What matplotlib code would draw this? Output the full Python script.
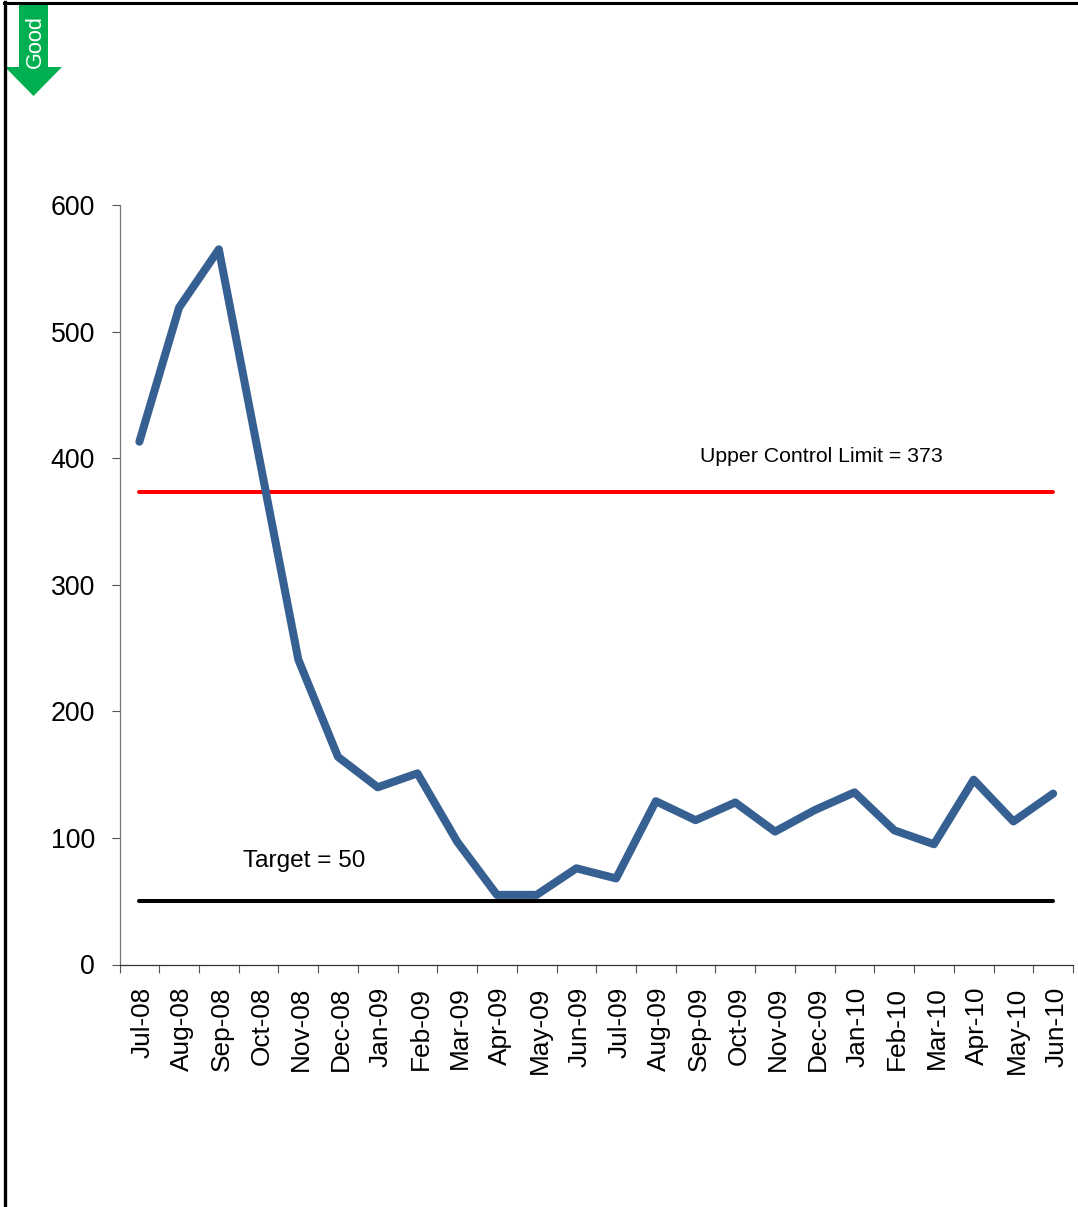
import matplotlib
matplotlib.use("Agg")
import matplotlib.pyplot as plt
from matplotlib.lines import Line2D
from matplotlib.patches import Polygon
from matplotlib.transforms import ScaledTranslation

plt.rcParams["font.family"] = ["Liberation Sans", "DejaVu Sans"]

months = ["Jul-08", "Aug-08", "Sep-08", "Oct-08", "Nov-08", "Dec-08", "Jan-09", "Feb-09",
          "Mar-09", "Apr-09", "May-09", "Jun-09", "Jul-09", "Aug-09", "Sep-09", "Oct-09",
          "Nov-09", "Dec-09", "Jan-10", "Feb-10", "Mar-10", "Apr-10", "May-10", "Jun-10"]
values = [413, 519, 565, 403, 241, 164, 140, 151, 97, 55, 55, 76,
          68, 129, 114, 128, 105, 122, 136, 106, 95, 146, 113, 135]
upper_limit = 373
target = 50

W, H = 1078, 1207
fig = plt.figure(figsize=(W / 100, H / 100), dpi=100, facecolor="white")


def fx(px):
    return px / W


def fy(py):
    return 1 - py / H


ax = fig.add_axes([fx(119.5), fy(964.5), (1073 - 119.5) / W, (964.5 - 205) / H])
x = list(range(len(months)))

# process line and the two reference lines
ax.plot(x, values, color="#376092", lw=5.8, solid_joinstyle="round", solid_capstyle="round", zorder=3)
ax.plot(x, [upper_limit] * len(x), color="#FF0000", lw=2.9, solid_capstyle="round", zorder=2)
ax.plot(x, [target] * len(x), color="black", lw=2.9, solid_capstyle="round", zorder=2)

ax.text(17.17, 401.5, f"Upper Control Limit = {upper_limit}", fontsize=15.3, ha="center", va="center")
ax.text(4.16, 81.5, f"Target = {target}", fontsize=17.6, ha="center", va="center")

ax.set_xlim(-0.5, len(months) - 0.5)
ax.set_ylim(0, 600)
ax.set_yticks(range(0, 601, 100))
ax.set_xticks([i - 0.5 for i in range(len(months) + 1)])
ax.set_xticklabels([])
ax.set_xticks(x, minor=True)
ax.set_xticklabels(months, minor=True, rotation=90, fontsize=18.9, ha="center", va="top")
ax.tick_params(axis="x", which="major", direction="out", length=5.5, width=0.8, color="#555555")
ax.tick_params(axis="x", which="minor", length=0, pad=16)
ax.tick_params(axis="y", direction="out", length=5.5, width=0.8, color="#555555", labelsize=19.3, pad=12)

# nudge the month labels to the right of their slot centres
nudge = ScaledTranslation(3 / 100, 0, fig.dpi_scale_trans)
for label in ax.get_xticklabels(minor=True):
    label.set_transform(label.get_transform() + nudge)

for side in ["top", "right"]:
    ax.spines[side].set_visible(False)
ax.spines["left"].set_color("#777777")
ax.spines["left"].set_linewidth(0.9)
ax.spines["bottom"].set_color("#333333")
ax.spines["bottom"].set_linewidth(0.9)

# outer frame, open on the right and at the bottom
fig.add_artist(Line2D([fx(5), fx(5)], [fy(2), fy(1207)], color="black", lw=2.4))
fig.add_artist(Line2D([fx(4), fx(1078)], [fy(2.5), fy(2.5)], color="black", lw=2.2))

# direction-of-good arrow
arrow_px = [(19, 3), (48, 3), (48, 67), (62, 67), (33.5, 96), (5, 67), (19, 67)]
fig.add_artist(Polygon([(fx(a), fy(b)) for a, b in arrow_px], closed=True,
                       transform=fig.transFigure, facecolor="#00B050", edgecolor="none"))
fig.text(fx(35), fy(42), "Good", color="white", fontsize=15.6, rotation=90, ha="center", va="center")

fig.savefig("out.png", dpi=100)
